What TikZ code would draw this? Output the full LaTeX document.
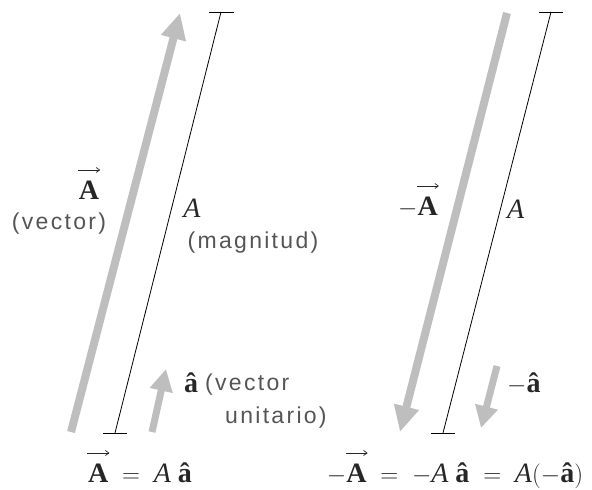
\documentclass[tikz,border=0pt]{standalone}
\usepackage{fontspec}
\setmainfont{Liberation Serif}
\newfontfamily\labfont[LetterSpace=10]{Liberation Sans}
\usetikzlibrary{arrows.meta}
\definecolor{arrgray}{RGB}{190,190,190}
\definecolor{labgray}{RGB}{85,85,85}
\newcommand{\vecarrow}{\tikz[baseline=0pt]\draw[draw=black!85,line width=0.7pt,-{Straight Barb[length=3.5pt,width=5pt]}] (0pt,0pt) -- (22pt,0pt);}
\newcommand{\vA}{\mbox{\rlap{\kern-1pt\raisebox{29pt}{\vecarrow}}\bfseries A}}
\newcommand{\iA}{\mbox{\itshape A}}
\newcommand{\ha}{\mbox{\bfseries â}}
\begin{document}
\begin{tikzpicture}[x=1pt,y=-1pt,
  bigarrow/.style={draw=arrgray,line width=8pt,-{Triangle[length=26pt,width=24pt]}},
  smallarrow/.style={draw=arrgray,line width=7pt,-{Triangle[length=22pt,width=22pt]}},
  magline/.style={draw=black,line width=0.8pt},
  mathlab/.style={font=\fontsize{28}{30}\selectfont, inner sep=0pt, text=black!85},
  sanslab/.style={font=\fontsize{23}{26}\selectfont\labfont, inner sep=0pt, text=labgray}]
\useasboundingbox (0,0) rectangle (592,490);
% coordinates
\coordinate (L0) at (71,432);  \coordinate (L1) at (180,13);
\coordinate (M0) at (221,12);  \coordinate (M1) at (115,433);
\coordinate (M0a) at (209,12); \coordinate (M0b) at (234,12);
\coordinate (M1a) at (103,433); \coordinate (M1b) at (127,433);
\coordinate (S0) at (152,432); \coordinate (S1) at (166,369);
\coordinate (R0) at (507,13);  \coordinate (R1) at (400,432);
\coordinate (N0) at (551,12);  \coordinate (N1) at (443,433);
\coordinate (N0a) at (539,12); \coordinate (N0b) at (563,12);
\coordinate (N1a) at (431,433); \coordinate (N1b) at (455,433);
\coordinate (T0) at (497,366); \coordinate (T1) at (481,428);
% arrows
\draw[bigarrow] (L0) -- (L1);
\draw[bigarrow] (R0) -- (R1);
\draw[smallarrow] (S0) -- (S1);
\draw[smallarrow] (T0) -- (T1);
% magnitude lines
\draw[magline] (M0) -- (M1);
\draw[magline] (M0a) -- (M0b);
\draw[magline] (M1a) -- (M1b);
\draw[magline] (N0) -- (N1);
\draw[magline] (N0a) -- (N0b);
\draw[magline] (N1a) -- (N1b);
% labels left
\node[mathlab, anchor=base] (vecA) at (89,199) {\vA};
\node[sanslab] (vec) at (59,224) {(vector)};
\node[mathlab, anchor=base] (magA) at (192,217) {\iA};
\node[sanslab] (mag) at (253,243) {(magnitud)};
\node[mathlab, anchor=base west] (ahat) at (184,392) {\ha};
\node[sanslab, anchor=west] (unit1) at (205,385) {(vector};
\node[sanslab, anchor=west] (unit2) at (225,418) {unitario)};
\node[mathlab, anchor=base] (eqL) at (140,482) {$\vA \;=\; \iA\;\ha$};
% labels right
\node[mathlab, anchor=base east] (negA) at (438,215) {$-\vA$};
\node[mathlab, anchor=base west] (magA2) at (507,218) {\iA};
\node[mathlab, anchor=base west] (nega) at (507,392) {$-\ha$};
\node[mathlab, anchor=base] (eqR) at (455,482) {$-\vA \;=\; -\iA\;\ha \;=\; \iA(-\ha)$};
\end{tikzpicture}
\end{document}
